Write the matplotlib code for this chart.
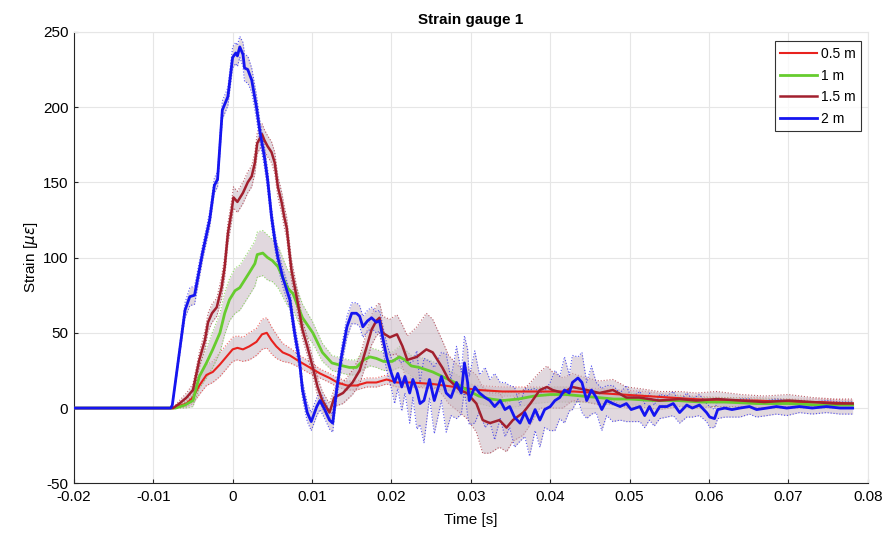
import matplotlib
matplotlib.use("Agg")
import matplotlib.pyplot as plt
import numpy as np

plt.rcParams['font.family'] = ['Liberation Sans', 'DejaVu Sans']
plt.rcParams['axes.unicode_minus'] = False

title = "Strain gauge 1"
xlabel = "Time [s]"
ylabel = r"Strain [$\mu\epsilon$]"
labels = ["0.5 m", "1 m", "1.5 m", "2 m"]
xticks = [-0.02, -0.01, 0, 0.01, 0.02, 0.03, 0.04, 0.05, 0.06, 0.07, 0.08]
xticklabels = ["-0.02", "-0.01", "0", "0.01", "0.02", "0.03", "0.04", "0.05", "0.06", "0.07", "0.08"]
yticks = [-50, 0, 50, 100, 150, 200, 250]

# 0.5 m
t_red = [-0.0200, -0.0075, -0.0070, -0.0058, -0.0050, -0.0042, -0.0033, -0.0025, -0.0016, -0.0008,
         0.0000, 0.0006, 0.0013, 0.0021, 0.0030, 0.0037, 0.0043, 0.0049, 0.0055, 0.0063,
         0.0072, 0.0084, 0.0097, 0.0110, 0.0122, 0.0132, 0.0144, 0.0156, 0.0169, 0.0181,
         0.0194, 0.0207, 0.0225, 0.0252, 0.0280, 0.0310, 0.0340, 0.0370, 0.0400, 0.0430,
         0.0460, 0.0490, 0.0520, 0.0550, 0.0580, 0.0620, 0.0660, 0.0700, 0.0740, 0.0781]
v_red = [0, 0, 1, 3, 7, 15, 22, 24, 29, 34,
         39, 40, 39, 41, 44, 49, 50, 45, 41, 37,
         35, 31, 27, 23, 20, 17, 15, 15, 17, 17,
         19, 17, 17, 16, 14, 12, 11, 11, 11, 11,
         10, 9, 8, 7, 6, 5, 5, 4, 4, 3]
w_red = [0, 0, 1, 2, 4, 6, 7, 7, 8, 8,
         8, 8, 8, 9, 9, 10, 10, 9, 8, 6,
         5, 4, 4, 3, 3, 3, 3, 3, 3, 3,
         3, 3, 3, 3, 3, 3, 3, 3, 3, 3,
         3, 3, 3, 2, 2, 2, 2, 2, 2, 2]

# 1 m
t_green = [-0.0200, -0.0072, -0.0060, -0.0050, -0.0042, -0.0033, -0.0025, -0.0016, -0.0010, -0.0004,
           0.0003, 0.0009, 0.0015, 0.0021, 0.0028, 0.0031, 0.0038, 0.0044, 0.0050, 0.0057,
           0.0063, 0.0069, 0.0076, 0.0088, 0.0101, 0.0113, 0.0125, 0.0139, 0.0147, 0.0156,
           0.0165, 0.0173, 0.0181, 0.0190, 0.0201, 0.0210, 0.0217, 0.0225, 0.0235, 0.0252,
           0.0264, 0.0280, 0.0295, 0.0310, 0.0325, 0.0340, 0.0360, 0.0380, 0.0400, 0.0420,
           0.0440, 0.0460, 0.0480, 0.0500, 0.0530, 0.0560, 0.0590, 0.0620, 0.0660, 0.0700,
           0.0740, 0.0781]
v_green = [0, 0, 2, 5, 21, 30, 39, 50, 63, 72,
           78, 80, 85, 90, 96, 102, 103, 100, 98, 94,
           87, 80, 76, 60, 50, 37, 30, 28, 27, 27,
           32, 34, 33, 31, 31, 34, 32, 28, 27, 24,
           21, 17, 12, 8, 6, 5, 6, 8, 9, 9,
           8, 7, 6, 6, 5, 5, 4, 4, 3, 3,
           2, 2]
w_green = [0, 0, 2, 4, 8, 10, 12, 13, 14, 14,
           15, 15, 15, 15, 15, 15, 15, 15, 14, 14,
           13, 12, 11, 9, 7, 6, 5, 5, 5, 5,
           6, 6, 6, 6, 6, 7, 7, 7, 7, 7,
           7, 6, 6, 5, 5, 5, 5, 5, 5, 5,
           4, 4, 4, 4, 3, 3, 3, 3, 3, 3,
           2, 2]

# 1.5 m
t_dred = [-0.0200, -0.0075, -0.0067, -0.0058, -0.0050, -0.0042, -0.0035, -0.0031, -0.0026, -0.0020,
          -0.0014, -0.0010, -0.0006, -0.0001, 0.0001, 0.0006, 0.0013, 0.0019, 0.0024, 0.0028,
          0.0031, 0.0037, 0.0040, 0.0044, 0.0049, 0.0053, 0.0057, 0.0062, 0.0065, 0.0068,
          0.0074, 0.0082, 0.0088, 0.0094, 0.0101, 0.0107, 0.0113, 0.0122, 0.0128, 0.0139,
          0.0151, 0.0160, 0.0169, 0.0175, 0.0181, 0.0185, 0.0189, 0.0198, 0.0207, 0.0214,
          0.0220, 0.0232, 0.0244, 0.0252, 0.0264, 0.0272, 0.0286, 0.0295, 0.0307, 0.0315,
          0.0324, 0.0336, 0.0345, 0.0353, 0.0366, 0.0375, 0.0387, 0.0396, 0.0403, 0.0416,
          0.0428, 0.0446, 0.0462, 0.0479, 0.0496, 0.0512, 0.0537, 0.0563, 0.0584, 0.0610,
          0.0640, 0.0670, 0.0700, 0.0730, 0.0760, 0.0781]
v_dred = [0, 0, 3, 7, 12, 32, 45, 57, 63, 67,
          80, 94, 116, 132, 140, 137, 143, 150, 154, 163,
          176, 182, 178, 174, 170, 163, 147, 136, 127, 120,
          92, 70, 52, 41, 27, 14, 5, -3, 7, 10,
          17, 25, 41, 52, 58, 60, 50, 47, 49, 41,
          32, 34, 39, 37, 27, 19, 12, 10, 3, -8,
          -10, -8, -13, -8, -3, 3, 12, 14, 12, 10,
          14, 12, 10, 12, 7, 7, 5, 6, 5, 6,
          5, 4, 5, 4, 3, 3]
w_dred = [0, 0, 2, 3, 4, 5, 6, 6, 6, 6,
          7, 7, 7, 7, 7, 7, 7, 7, 7, 7,
          7, 7, 7, 7, 7, 7, 7, 7, 7, 7,
          7, 7, 6, 6, 6, 6, 6, 6, 6, 7,
          8, 9, 10, 10, 10, 10, 11, 12, 13, 14,
          16, 20, 24, 22, 18, 16, 15, 17, 19, 22,
          20, 18, 16, 14, 15, 14, 12, 14, 12, 10,
          9, 8, 8, 7, 7, 6, 6, 5, 5, 5,
          4, 4, 4, 3, 3, 3]

# 2 m
t_blue = [-0.0200, -0.0078, -0.0076, -0.0060, -0.0054, -0.0048, -0.0038, -0.0029, -0.0023, -0.0019,
          -0.0013, -0.0006, 0.0000, 0.0004, 0.0006, 0.0009, 0.0013, 0.0015, 0.0019, 0.0024,
          0.0030, 0.0034, 0.0040, 0.0044, 0.0049, 0.0053, 0.0057, 0.0063, 0.0072, 0.0078,
          0.0084, 0.0088, 0.0094, 0.0099, 0.0106, 0.0110, 0.0116, 0.0122, 0.0126, 0.0131,
          0.0137, 0.0144, 0.0150, 0.0156, 0.0160, 0.0164, 0.0170, 0.0175, 0.0181, 0.0185,
          0.0189, 0.0194, 0.0200, 0.0204, 0.0208, 0.0213, 0.0217, 0.0223, 0.0227, 0.0232,
          0.0236, 0.0241, 0.0248, 0.0254, 0.0263, 0.0269, 0.0275, 0.0282, 0.0288, 0.0292,
          0.0296, 0.0298, 0.0305, 0.0311, 0.0318, 0.0324, 0.0330, 0.0337, 0.0343, 0.0349,
          0.0355, 0.0362, 0.0368, 0.0374, 0.0381, 0.0387, 0.0393, 0.0400, 0.0406, 0.0412,
          0.0418, 0.0424, 0.0428, 0.0435, 0.0440, 0.0446, 0.0452, 0.0458, 0.0465, 0.0471,
          0.0479, 0.0488, 0.0496, 0.0502, 0.0513, 0.0519, 0.0525, 0.0531, 0.0538, 0.0547,
          0.0555, 0.0563, 0.0572, 0.0579, 0.0588, 0.0597, 0.0601, 0.0607, 0.0611, 0.0620,
          0.0629, 0.0639, 0.0651, 0.0660, 0.0673, 0.0685, 0.0698, 0.0714, 0.0730, 0.0748,
          0.0765, 0.0781]
v_blue = [0, 0, 2, 65, 74, 75, 103, 125, 148, 152,
          198, 207, 233, 236, 234, 240, 235, 226, 225, 218,
          200, 185, 167, 152, 127, 112, 100, 87, 72, 50,
          32, 12, -3, -9, 1, 5, -1, -8, -10, 12,
          34, 54, 63, 63, 61, 54, 58, 60, 57, 58,
          47, 34, 23, 17, 23, 14, 21, 10, 19, 12,
          3, 5, 19, 5, 21, 10, 7, 17, 10, 30,
          17, 5, 14, 10, 7, 5, 1, 5, -1, 1,
          -6, -10, -3, -10, -1, -8, -1, 1, 5, 7,
          12, 10, 17, 20, 17, 5, 12, 7, -1, 5,
          3, 1, 3, -1, 1, -5, 1, -5, 1, 1,
          3, -3, 2, 0, 2, -3, -6, -7, -1, 0,
          -1, 0, 1, -1, 0, 1, 0, 1, 0, 1,
          0, 0]
w_blue = [0, 0, 1, 5, 6, 6, 5, 5, 5, 5,
          6, 6, 7, 7, 7, 7, 8, 9, 9, 8,
          8, 7, 7, 7, 6, 6, 6, 6, 6, 6,
          6, 6, 6, 6, 6, 6, 6, 6, 6, 6,
          6, 7, 7, 7, 7, 7, 7, 7, 7, 7,
          8, 9, 10, 14, 10, 16, 11, 20, 12, 26,
          14, 28, 12, 22, 16, 26, 12, 24, 14, 18,
          22, 16, 24, 12, 20, 14, 22, 12, 18, 14,
          20, 12, 16, 22, 14, 18, 12, 16, 20, 14,
          22, 12, 18, 14, 20, 12, 16, 10, 14, 10,
          12, 9, 12, 8, 10, 8, 9, 7, 8, 7,
          8, 7, 8, 6, 7, 6, 7, 6, 6, 6,
          5, 6, 5, 5, 5, 5, 5, 4, 4, 4,
          4, 4]

colors = ["#e8221e", "#66cc2e", "#a2202e", "#1515f0"]
series = [(t_red, v_red, w_red), (t_green, v_green, w_green),
          (t_dred, v_dred, w_dred), (t_blue, v_blue, w_blue)]
lws = [1.5, 2.0, 1.8, 2.0]

fig = plt.figure(figsize=(8.9, 5.4), dpi=100)
ax = fig.add_axes([0.083, 0.105, 0.892, 0.836])

# bands first
for (t, v, w), c in zip(series, colors):
    t = np.array(t); v = np.array(v, float); w = np.array(w, float)
    ax.fill_between(t, v - w, v + w, color="#c9b9c4", alpha=0.55, lw=0, zorder=2)
    ax.plot(t, v + w, ls=":", lw=0.8, color=c, alpha=0.7, zorder=2)
    ax.plot(t, v - w, ls=":", lw=0.8, color=c, alpha=0.7, zorder=2)

for (t, v, w), c, lw, lab in zip(series, colors, lws, labels):
    ax.plot(t, v, color=c, lw=lw, label=lab, zorder=3)

ax.set_xlim(-0.02, 0.08)
ax.set_ylim(-50, 250)
ax.set_xticks(xticks)
ax.set_xticklabels(xticklabels)
ax.set_yticks(yticks)
ax.grid(True, color="#e6e6e6", lw=0.8)
ax.set_axisbelow(True)
for s in ["top", "right"]:
    ax.spines[s].set_color("#e6e6e6")
for s in ["left", "bottom"]:
    ax.spines[s].set_color("#262626")
ax.tick_params(labelsize=11, length=3, color="#262626", direction="in")
ax.tick_params(axis="x", pad=5)
ax.tick_params(axis="y", pad=4)
ax.set_title(title, fontsize=11, fontweight="bold", pad=6)
ax.set_xlabel(xlabel, fontsize=11, labelpad=6)
ax.set_ylabel(ylabel, fontsize=11, labelpad=2)

leg = ax.legend(loc="upper right", bbox_to_anchor=(0.995, 0.985), fontsize=10,
                frameon=True, fancybox=False, edgecolor="black", handlelength=2.6,
                handletextpad=0.3, borderpad=0.4, labelspacing=0.55, borderaxespad=0.2)
leg.get_frame().set_linewidth(0.8)

fig.savefig("out.png", dpi=100, facecolor="white")
